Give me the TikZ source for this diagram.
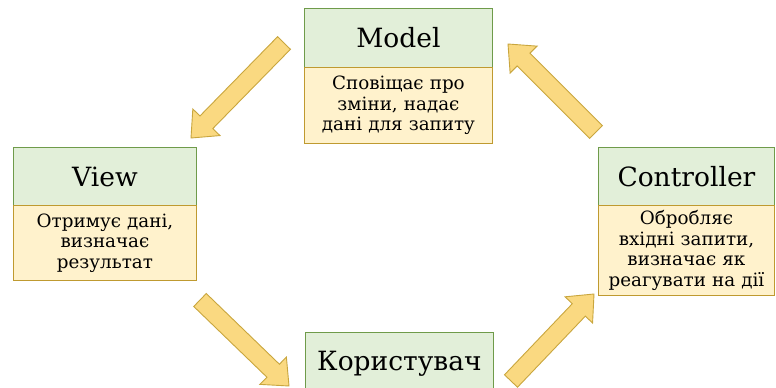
\documentclass[tikz,border=0pt]{standalone}
\usepackage{fontspec}
\setmainfont{DejaVu Serif}
\newfontfamily\tnrfont{DejaVu Serif}
\usetikzlibrary{calc}
\definecolor{gfill}{HTML}{E2EFD9}
\definecolor{gline}{HTML}{6F9B4A}
\definecolor{yfill}{HTML}{FFF2CC}
\definecolor{yline}{HTML}{BF9A30}
\definecolor{afill}{HTML}{FAD981}
\definecolor{aline}{HTML}{C9A63E}
\newcommand\myblockarrow[2]{%
  \draw[arrowstyle]
    ($(#1)!9pt!90:(#2)$) -- ($($(#2)!22pt!(#1)$)!9pt!-90:(#1)$) --
    ($($(#2)!22pt!(#1)$)!19pt!-90:(#1)$) -- (#2) --
    ($($(#2)!22pt!(#1)$)!19pt!90:(#1)$) --
    ($($(#2)!22pt!(#1)$)!9pt!90:(#1)$) -- ($(#1)!9pt!-90:(#2)$) -- cycle;}
\tikzset{
  titlebox/.style={draw=gline, fill=gfill, line width=0.9pt, anchor=north west,
    inner sep=0pt, align=center, font=\tnrfont\fontsize{26.5}{28}\selectfont},
  descbox/.style={draw=yline, fill=yfill, line width=0.9pt, anchor=north west,
    inner sep=0pt, align=center, font=\tnrfont\fontsize{18.3}{20.5}\selectfont},
  arrowstyle/.style={draw=aline, fill=afill, line width=0.9pt, line join=miter}
}
\begin{document}
\begin{tikzpicture}[x=1pt,y=-1pt]
\useasboundingbox[fill=white] (0,0) rectangle (776,388);
% Model
\node[titlebox, minimum width=188pt, minimum height=59pt] (mt) at (304,8) {Model};
\node[descbox, minimum width=188pt, minimum height=76pt, text width=188pt] (md) at (304,67)
  {Сповіщає про\\зміни, надає\\дані для запиту};
% View
\node[titlebox, minimum width=183pt, minimum height=58pt] (vt) at (13,147) {View};
\node[descbox, minimum width=183pt, minimum height=75pt, text width=183pt] (vd) at (13,205)
  {Отримує дані,\\визначає\\результат};
% Controller
\node[titlebox, minimum width=176pt, minimum height=58pt] (ct) at (598,147) {Controller};
\node[descbox, minimum width=176pt, minimum height=90pt, text width=176pt] (cd) at (598,205)
  {Обробляє\\вхідні запити,\\визначає як\\реагувати на дії};
% User
\node[titlebox, minimum width=188pt, minimum height=62pt] (ut) at (305,332) {Користувач};
% arrows
\coordinate (a1s) at (284,43);  \coordinate (a1e) at (191,138);
\coordinate (a2s) at (200,300); \coordinate (a2e) at (289,386);
\coordinate (a3s) at (511,381); \coordinate (a3e) at (594,294);
\coordinate (a4s) at (596,132); \coordinate (a4e) at (508,44);
\myblockarrow{a1s}{a1e}
\myblockarrow{a2s}{a2e}
\myblockarrow{a3s}{a3e}
\myblockarrow{a4s}{a4e}
\end{tikzpicture}
\end{document}
